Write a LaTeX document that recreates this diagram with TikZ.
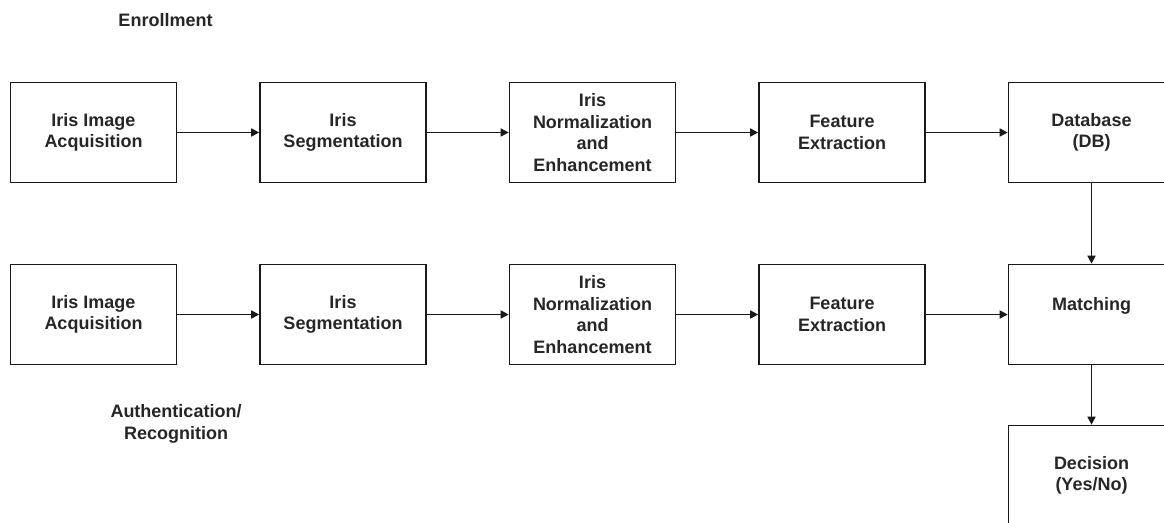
\documentclass[tikz,border=0pt]{standalone}
\usepackage{fontspec}
\setmainfont{Liberation Sans}
\usetikzlibrary{arrows.meta}
\tikzset{
  blk/.style={draw=black!90, line width=1.6pt, minimum width=166pt, minimum height=100pt, inner sep=0pt, align=center, font=\bfseries\fontsize{18}{21.4}\selectfont, text=black!85},
  lbl/.style={align=center, font=\bfseries\fontsize{18}{21.4}\selectfont, text=black!85},
  arr/.style={line width=1.6pt, draw=black!90, -{Triangle[length=8pt,width=8pt]}}
}
\begin{document}
\begin{tikzpicture}[x=1pt,y=-1pt]
\useasboundingbox (0,0) rectangle (1164,522);
\clip (0,0) rectangle (1164,522);
\node[lbl] (enr) at (165.5,20) {Enrollment};
\node[lbl] (auth) at (176,424) {Authentication/\\Recognition};
% row 1
\node[blk] (a1) at (93.5,132.5) {Iris Image\\Acquisition};
\node[blk] (b1) at (343,132.5) {Iris\\Segmentation};
\node[blk] (c1) at (592.5,132.5) {Iris\\Normalization\\and\\Enhancement};
\node[blk] (d1) at (842,132.5) {Feature\\Extraction};
\node[blk] (e1) at (1091.5,132.5) {Database\\(DB)};
% row 2
\node[blk] (a2) at (93.5,314.5) {Iris Image\\Acquisition};
\node[blk] (b2) at (343,314.5) {Iris\\Segmentation};
\node[blk] (c2) at (592.5,314.5) {Iris\\Normalization\\and\\Enhancement};
\node[blk] (d2) at (842,314.5) {Feature\\Extraction};
\node[blk] (e2) at (1091.5,314.5) {Matching\\\mbox{}};
\node[blk] (f) at (1091.5,475.5) {Decision\\(Yes/No)};
% arrows
\draw[arr] (a1) -- (b1);
\draw[arr] (b1) -- (c1);
\draw[arr] (c1) -- (d1);
\draw[arr] (d1) -- (e1);
\draw[arr] (a2) -- (b2);
\draw[arr] (b2) -- (c2);
\draw[arr] (c2) -- (d2);
\draw[arr] (d2) -- (e2);
\draw[arr] (e1) -- (e2);
\draw[arr] (e2) -- (f);
\end{tikzpicture}
\end{document}
